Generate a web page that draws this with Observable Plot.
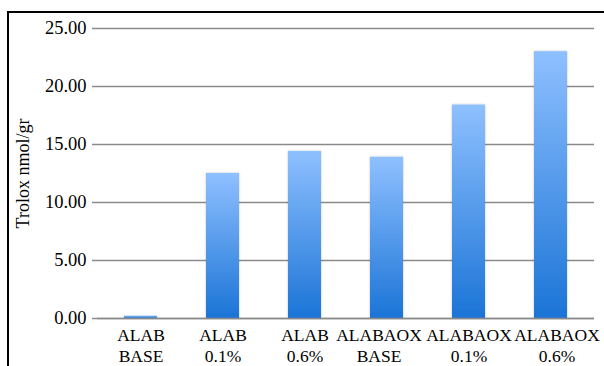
<!DOCTYPE html>
<html>
<head>
<meta charset="utf-8">
<script src="https://cdn.jsdelivr.net/npm/d3@7"></script>
<script src="https://cdn.jsdelivr.net/npm/@observablehq/plot@0.6"></script>
<style>
  html, body { margin: 0; padding: 0; background: #fff; }
  #wrap { position: relative; width: 604px; height: 366px; overflow: hidden; }
  #frame { position: absolute; left: 7px; top: 11px; width: 620px; height: 400px;
           border-top: 2px solid #000; border-left: 2px solid #000; box-sizing: border-box; pointer-events: none; }
  svg { display: block; }
</style>
</head>
<body>
<div id="wrap"><div id="frame"></div></div>
<script>
const categories = ["ALAB\nBASE", "ALAB\n0.1%", "ALAB\n0.6%", "ALABAOX\nBASE", "ALABAOX\n0.1%", "ALABAOX\n0.6%"];
const values = [0.2, 12.5, 14.4, 13.9, 18.4, 23.0];
const yTicks = [0, 5, 10, 15, 20, 25];
const yLabel = "Trolox nmol/gr";

const data = categories.map((c, i) => ({category: c, value: values[i]}));
const serif = "Liberation Serif";

const gradientDefs = () => {
  const ns = "http://www.w3.org/2000/svg";
  const defs = document.createElementNS(ns, "defs");
  const lg = document.createElementNS(ns, "linearGradient");
  lg.setAttribute("id", "barGrad");
  lg.setAttribute("x1", "0"); lg.setAttribute("y1", "0");
  lg.setAttribute("x2", "0"); lg.setAttribute("y2", "1");
  [["0%", "#8ec0ff"], ["100%", "#1b74d6"]].forEach(([o, c]) => {
    const s = document.createElementNS(ns, "stop");
    s.setAttribute("offset", o); s.setAttribute("stop-color", c);
    lg.appendChild(s);
  });
  defs.appendChild(lg);
  const f = document.createElementNS(ns, "filter");
  f.setAttribute("id", "barShadow");
  f.setAttribute("x", "-20%"); f.setAttribute("y", "-5%");
  f.setAttribute("width", "140%"); f.setAttribute("height", "110%");
  const ds = document.createElementNS(ns, "feDropShadow");
  ds.setAttribute("dx", "0"); ds.setAttribute("dy", "0");
  ds.setAttribute("stdDeviation", "1.2");
  ds.setAttribute("flood-color", "#000"); ds.setAttribute("flood-opacity", "0.25");
  f.appendChild(ds);
  defs.appendChild(f);
  return defs;
};

const xAxisOpts = {tickSize: 0, tickPadding: 8, lineHeight: 1.2, fontSize: 17.5, fontFamily: serif, fill: "#000", label: null};

const chart = Plot.plot({
  width: 604,
  height: 366,
  marginLeft: 97,
  marginRight: 10,
  marginTop: 28,
  marginBottom: 48,
  style: {fontFamily: serif, fontSize: "17px", color: "#000", background: "transparent"},
  x: {domain: categories, paddingInner: 0.6, paddingOuter: 0.3, label: null},
  y: {domain: [0, 25], label: null},
  marks: [
    gradientDefs,
    Plot.gridY(yTicks, {stroke: "#8a8a8a", strokeOpacity: 1, strokeWidth: 1.5}),
    Plot.barY(data, {x: "category", y: "value", fill: "url(#barGrad)"}),
    Plot.ruleY([0], {stroke: "#8a8a8a", strokeWidth: 1.5}),
    Plot.axisY({ticks: yTicks, tickFormat: d3.format(".2f"), tickSize: 5, tickPadding: 6, stroke: "#8a8a8a", strokeWidth: 1.5, fill: "#000", fontSize: 18.5, fontFamily: serif, label: null}),
    Plot.ruleX([0], {x: () => null, frameAnchor: "left", stroke: "#8a8a8a", strokeWidth: 1.5}),
    Plot.axisX(categories.slice(0, 3).concat([categories[4]]), xAxisOpts),
    Plot.axisX([categories[3]], {...xAxisOpts, dx: -8}),
    Plot.axisX([categories[5]], {...xAxisOpts, dx: 6}),
    Plot.text([yLabel], {text: d => d, frameAnchor: "left", textAnchor: "middle", dx: -74, rotate: -90, fontSize: 18, fontFamily: serif, fill: "#000"})
  ]
});
chart.querySelectorAll("rect").forEach(r => {
  if (r.getAttribute("fill") === "url(#barGrad)" || (r.parentNode && r.parentNode.getAttribute && r.parentNode.getAttribute("fill") === "url(#barGrad)")) r.setAttribute("filter", "url(#barShadow)");
});
document.getElementById("wrap").prepend(chart);
</script>
</body>
</html>
